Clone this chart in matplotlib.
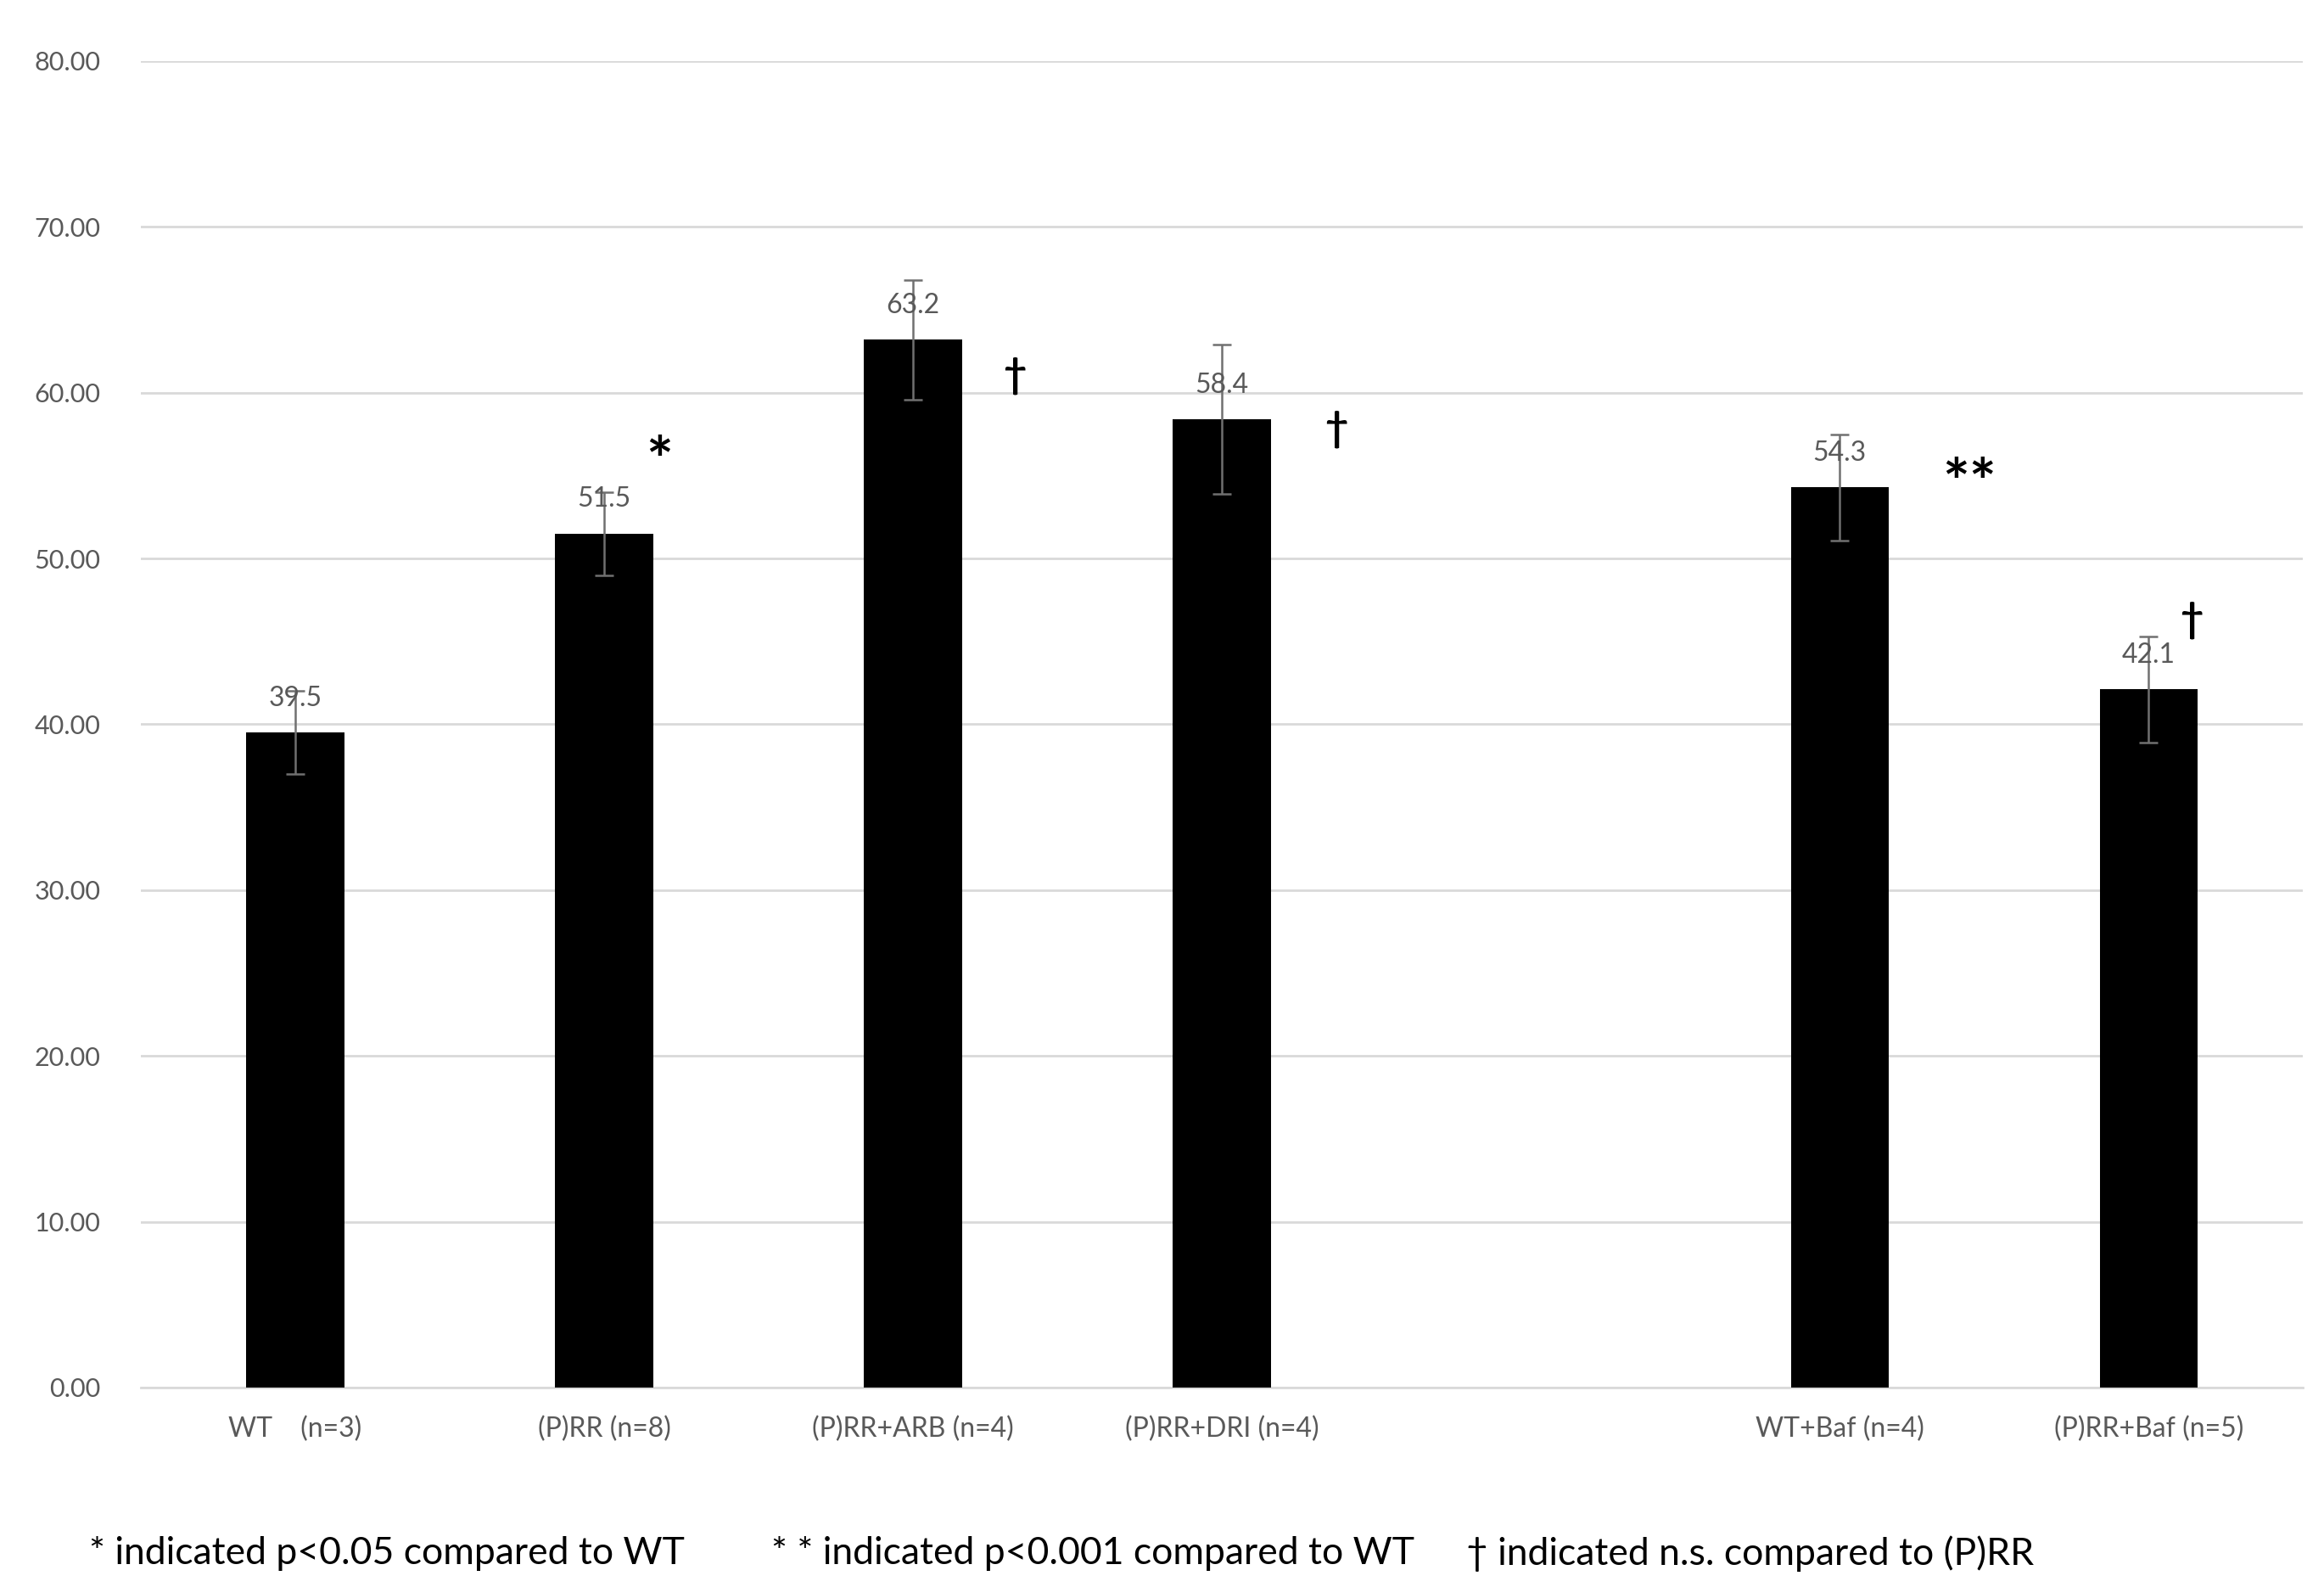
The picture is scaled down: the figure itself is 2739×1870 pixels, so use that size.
import numpy as np
import matplotlib.pyplot as plt

plt.rcParams['font.family'] = ['Lato', 'DejaVu Sans']

# data
groups = ["WT    (n=3)", "(P)RR (n=8)", "(P)RR+ARB (n=4)", "(P)RR+DRI (n=4)",
          "WT+Baf (n=4)", "(P)RR+Baf (n=5)"]
slots = [0, 1, 2, 3, 5, 6]
means = [39.5, 51.5, 63.2, 58.4, 54.3, 42.1]
errs = [2.5, 2.5, 3.6, 4.5, 3.2, 3.2]
marks = ["", "*", "\u2020", "\u2020", "**", "\u2020"]
notes = ["* indicated p<0.05 compared to WT",
         "* * indicated p<0.001 compared to WT",
         "\u2020 indicated n.s. compared to (P)RR"]

# where the marks sit (offset in slots, height in axis units)
mark_dx = [0, 0.18, 0.33, 0.37, 0.42, 0.14]
mark_y = [0, 55.7, 61.0, 57.8, 54.4, 46.3]

fig = plt.figure(figsize=(13.695, 9.35), dpi=200)
ax = fig.add_axes([0.0606, 0.1257, 0.9304, 0.8358])

gray = '#595959'
ax.bar(slots, means, width=0.317, color='black', zorder=3)
ax.errorbar(slots, means, yerr=errs, fmt='none', ecolor='#707070',
            elinewidth=0.9, capsize=4, capthick=0.9, zorder=4)

for x, m in zip(slots, means):
    ax.text(x, m + 1.3, str(m), ha='center', va='bottom', color=gray,
            fontsize=11.5, zorder=5)

for i in range(len(slots)):
    if marks[i] == "":
        continue
    size = 27 if "*" in marks[i] else 17
    ax.text(slots[i] + mark_dx[i], mark_y[i], marks[i], ha='center', va='center',
            fontsize=size, fontweight='bold', color='black', zorder=5)

ax.set_xlim(-0.5, 6.5)
ax.set_ylim(0, 80)
ax.set_yticks(np.arange(0, 81, 10))
ax.set_yticklabels(["%.2f" % v for v in np.arange(0, 81, 10)])
ax.set_xticks(slots)
ax.set_xticklabels(groups)
ax.tick_params(axis='y', length=0, pad=17, labelsize=11, labelcolor=gray)
ax.tick_params(axis='x', length=0, pad=12, labelsize=11.5, labelcolor=gray)
ax.grid(axis='y', color='#d9d9d9', linewidth=1.0, zorder=0)
for s in ['top', 'right', 'left']:
    ax.spines[s].set_visible(False)
ax.spines['bottom'].set_color('#d9d9d9')
ax.spines['bottom'].set_linewidth(1.0)

note_x = [0.0383, 0.332, 0.631]
for nx, t in zip(note_x, notes):
    fig.text(nx, 0.021, t, ha='left', va='center', fontsize=16, color='black')

fig.savefig('out.png', dpi=200)
